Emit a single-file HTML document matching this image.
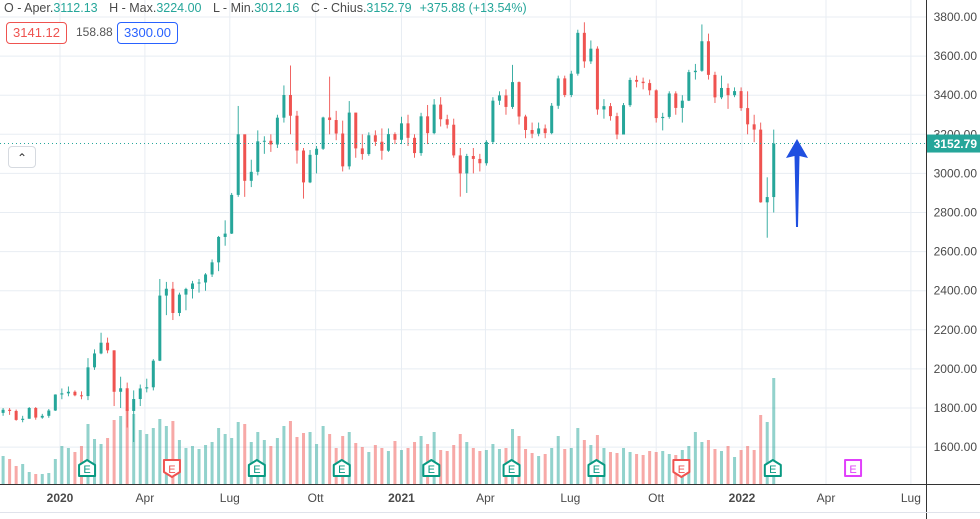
<!DOCTYPE html>
<html><head><meta charset="utf-8"><style>
body{margin:0;background:#fff;font-family:"Liberation Sans",sans-serif;}
#wrap{position:relative;width:980px;height:519px;overflow:hidden;}
svg{position:absolute;left:0;top:0}
.hdr{position:absolute;left:4px;top:1px;font-size:12.5px;color:#4a4a4a;white-space:nowrap}
.hdr .v{color:#26a69a;margin-right:8px}
.box{position:absolute;top:22px;height:20px;font-size:13px;line-height:20px;border-radius:4px;padding:0 6px;background:#fff}
</style></head><body>
<div id="wrap">
<svg id="chart" width="980" height="519"></svg>
<div class="hdr">O - Aper.<span class="v">3112.13</span> H - Max.<span class="v">3224.00</span> L - Min.<span class="v">3012.16</span> C - Chius.<span class="v">3152.79</span><span class="v">+375.88 (+13.54%)</span></div>
<div class="box" style="left:6px;border:1px solid #ef5350;color:#ef5350">3141.12</div>
<div style="position:absolute;left:76px;top:22px;line-height:20px;font-size:12px;color:#555">158.88</div>
<div class="box" style="left:117px;border:1px solid #2962ff;color:#2962ff">3300.00</div>
<div style="position:absolute;left:8px;top:146px;width:26px;height:20px;border:1px solid #d6dae0;border-radius:4px;background:#fff;text-align:center;font-size:12px;line-height:22px;color:#333">&#8963;</div>
</div>
<script>
const opens=[1775,1791,1785,1739,1745,1800,1751,1760,1787,
1869,1875,1883,1865,1861,2008,2079,2134,2095,1883,1901,1785,1846,1900,1906,2042,2375,2410,2286,2380,2409,2437,2442,2483,2545,2675,2692,2890,3200,2962,3008,3164,3167,3148,3285,3401,3295,3117,2954,3095,3126,3286,3273,3204,3036,3311,3128,3099,3195,3162,3116,3201,3172,
3256,3182,3104,3292,3206,3352,3277,3249,3092,3000,3089,3074,3052,3161,3372,3399,3340,3467,3291,3222,3203,3230,3206,3346,3486,3401,3510,3719,3573,3638,3327,3344,3293,3199,3349,3478,3469,3462,3425,3283,3289,3409,3335,3372,3518,3525,3676,3504,3389,3437,3400,3421,
3334,3251,3224,2852,2879];
const closes=[1791,1785,1739,1745,1800,1751,1760,1787,1869,
1875,1883,1865,1861,2008,2079,2134,2095,1883,1901,1785,1846,1900,1906,2042,2375,2410,2286,2380,2409,2437,2442,2483,2545,2675,2692,2890,3200,2962,3008,3164,3167,3148,3285,3401,3295,3117,2954,3095,3126,3286,3273,3204,3036,3311,3128,3099,3195,3162,3116,3201,3172,3256,
3182,3104,3292,3206,3352,3277,3249,3092,3000,3089,3074,3052,3161,3372,3399,3340,3467,3291,3222,3203,3230,3206,3346,3486,3401,3510,3719,3573,3638,3327,3344,3293,3199,3349,3478,3469,3462,3425,3283,3289,3409,3335,3372,3518,3525,3676,3504,3389,3437,3400,3421,3334,
3251,3224,2852,2879,3152.79];
const highs=[1800,1800,1792,1760,1805,1805,1770,1795,1870,
1900,1910,1890,1885,2055,2100,2185,2160,2095,1960,1930,1890,1920,1950,2050,2460,2445,2445,2390,2415,2450,2460,2490,2560,2680,2760,2900,3345,3190,3070,3220,3190,3200,3300,3450,3552,3320,3130,3120,3140,3290,3495,3320,3270,3370,3310,3200,3210,3220,3230,3230,3210,3290,
3300,3200,3310,3350,3380,3390,3300,3280,3130,3100,3130,3100,3170,3390,3420,3430,3555,3470,3300,3260,3260,3250,3360,3500,3500,3525,3735,3773,3680,3650,3380,3360,3310,3360,3490,3500,3490,3480,3430,3310,3420,3420,3400,3530,3560,3762,3715,3520,3500,3460,3440,3440,
3420,3300,3260,2980,3224];
const lows=[1760,1765,1735,1727,1745,1740,1745,1750,1785,
1845,1860,1860,1845,1840,1995,2075,2080,1810,1800,1700,1626,1810,1880,1890,2040,2275,2250,2270,2300,2360,2390,2400,2470,2500,2630,2690,2880,2880,2930,2990,3100,3110,3130,3260,3200,3050,2871,2950,3000,3120,3200,3170,3010,3020,3080,3070,3090,3140,3070,3110,3150,3150,
3140,3080,3090,3150,3200,3240,3230,3080,2881,2900,3000,3010,3040,3150,3350,3300,3330,3250,3180,3180,3190,3180,3200,3330,3390,3390,3500,3540,3560,3300,3280,3270,3175,3200,3340,3440,3430,3400,3260,3220,3280,3300,3260,3370,3480,3520,3480,3360,3380,3330,3390,3320,
3200,3160,2850,2671,2800];
const volumes=[2.8,2.5,1.8,2.0,1.2,1.0,1.0,1.1,2.5,
3.8,3.6,3.2,3.8,6.0,4.5,4.0,4.6,6.4,6.8,7.5,7.0,5.4,5.0,5.6,6.5,5.8,6.3,4.4,3.6,3.8,3.5,3.9,4.2,5.6,5.0,4.6,6.2,6.0,4.2,5.2,4.4,3.8,4.6,5.8,6.3,4.7,5.1,5.2,4.0,5.8,5.0,3.6,4.8,5.2,4.1,3.7,3.2,3.9,3.6,3.3,4.3,3.4,
3.6,4.2,4.8,4.0,5.2,3.4,3.3,3.9,5.0,4.2,3.6,3.3,3.4,4.0,3.5,3.6,5.5,4.8,3.5,3.1,2.8,3.0,3.6,4.8,3.5,3.6,5.6,4.4,3.9,4.9,3.6,3.2,3.1,3.6,3.2,3.0,2.9,3.3,3.2,3.3,3.0,2.9,3.4,3.8,5.2,4.2,4.4,3.5,3.3,3.8,2.7,3.4,
3.8,3.4,6.9,6.2,10.6];
const yTicks=[1600,1800,2000,2200,2400,2600,2800,3000,3200,3400,3600,3800];
const xTickLabels=["2020","Apr","Lug","Ott","2021","Apr","Lug","Ott","2022","Apr","Lug"];
const xTickDays=[0,91,182,274,366,456,547,639,731,821,912];
const earnDays=[29,120,211,302,398,484,575,666,764,850];
const earnTypes=["up","down","up","up","up","up","up","down","up","future"];

const NS="http://www.w3.org/2000/svg";
const svg=document.getElementById('chart');
const xDay=d=>60+d*0.933;
const xIdx=i=>xDay(i*7-61);
const yP=p=>17+(3800-p)*0.1955;
const yV=v=>484-v*10;
function mk(tag,attrs){const e=document.createElementNS(NS,tag);for(const k in attrs)e.setAttribute(k,attrs[k]);svg.appendChild(e);return e;}

yTicks.forEach(t=>{
  const g=mk('line',{x1:0,x2:926,y1:yP(t),y2:yP(t),stroke:'#e8edf3','stroke-width':1});
  
  
  const l=mk('text',{x:977,y:yP(t)+4,'text-anchor':'end','font-size':12,fill:'#4a4a4a','font-family':'Liberation Sans, sans-serif'});
  l.textContent=t.toFixed(2);
  
  
});
xTickDays.forEach((d,i)=>{
  const g=mk('line',{x1:xDay(d),x2:xDay(d),y1:0,y2:484,stroke:'#e8edf3','stroke-width':1});
  
  
  const bold=/^\d/.test(xTickLabels[i]);
  const l=mk('text',{x:xDay(d),y:502,'text-anchor':'middle','font-size':12,fill:'#4a4a4a','font-weight':bold?'bold':'normal','font-family':'Liberation Sans, sans-serif'});
  l.textContent=xTickLabels[i];
  
  
});
// volume
volumes.forEach((v,i)=>{
  const up=closes[i]>=opens[i];
  const r=mk('rect',{x:xIdx(i)-1.5,y:yV(v),width:3,height:484-yV(v),fill:up?'rgba(38,166,154,0.5)':'rgba(239,83,80,0.5)'});
  
  
});
// candles
closes.forEach((c,i)=>{
  const o=opens[i],up=c>=o,col=up?'#26a69a':'#ef5350',x=xIdx(i);
  const w=mk('line',{x1:x,x2:x,y1:yP(highs[i]),y2:yP(lows[i]),stroke:col,'stroke-width':0.9});
  
  
  const top=yP(Math.max(o,c)),bh=Math.max(1,Math.abs(yP(o)-yP(c)));
  const b=mk('rect',{x:x-1.5,y:top,width:3,height:bh,fill:col});
  
  
});
// earnings markers
earnDays.forEach((d,i)=>{
  const x=xDay(d),t=earnTypes[i];
  const col=t==='down'?'#ef5350':t==='future'?'#e040fb':'#089981';
  let pts;
  if(t==='up')pts=`${x-8},476 ${x+8},476 ${x+8},465 ${x},460 ${x-8},465`;
  else if(t==='down')pts=`${x-8},460 ${x+8},460 ${x+8},472 ${x},477 ${x-8},472`;
  else pts=`${x-8},460 ${x+8},460 ${x+8},476 ${x-8},476`;
  const p=mk('polygon',{points:pts,fill:'#fff',stroke:col,'stroke-width':2,'stroke-linejoin':'round'});
  
  
  const l=mk('text',{x:x,y:473,'text-anchor':'middle','font-size':11,fill:col,'font-family':'Liberation Sans, sans-serif'});
  l.textContent='E';
  
  
});
// axes
const ax=mk('line',{x1:0,x2:980,y1:484.5,y2:484.5,stroke:'#333','stroke-width':1});


const ay=mk('line',{x1:926.5,x2:926.5,y1:0,y2:519,stroke:'#333','stroke-width':1});


const bl=mk('line',{x1:0,x2:980,y1:512.5,y2:512.5,stroke:'#e0e3eb','stroke-width':1});


// last price line
const lastPrice=closes[closes.length-1];
const pl=mk('line',{x1:0,x2:926,y1:yP(lastPrice),y2:yP(lastPrice),stroke:'#26a69a','stroke-width':1,'stroke-dasharray':'1,3'});


const pb=mk('rect',{x:927,y:yP(lastPrice)-9,width:53,height:18,fill:'#26a69a'});


const pt=mk('text',{x:977,y:yP(lastPrice)+4.5,'text-anchor':'end','font-size':12,'font-weight':'bold',fill:'#fff','font-family':'Liberation Sans, sans-serif'});
pt.textContent=lastPrice.toFixed(2);


// arrow
const ar=mk('polygon',{points:'797,139 808,158 799.5,156 798,227 796,227 794.5,156 786,158',fill:'#1f4fe0'});


</script>
</body></html>
